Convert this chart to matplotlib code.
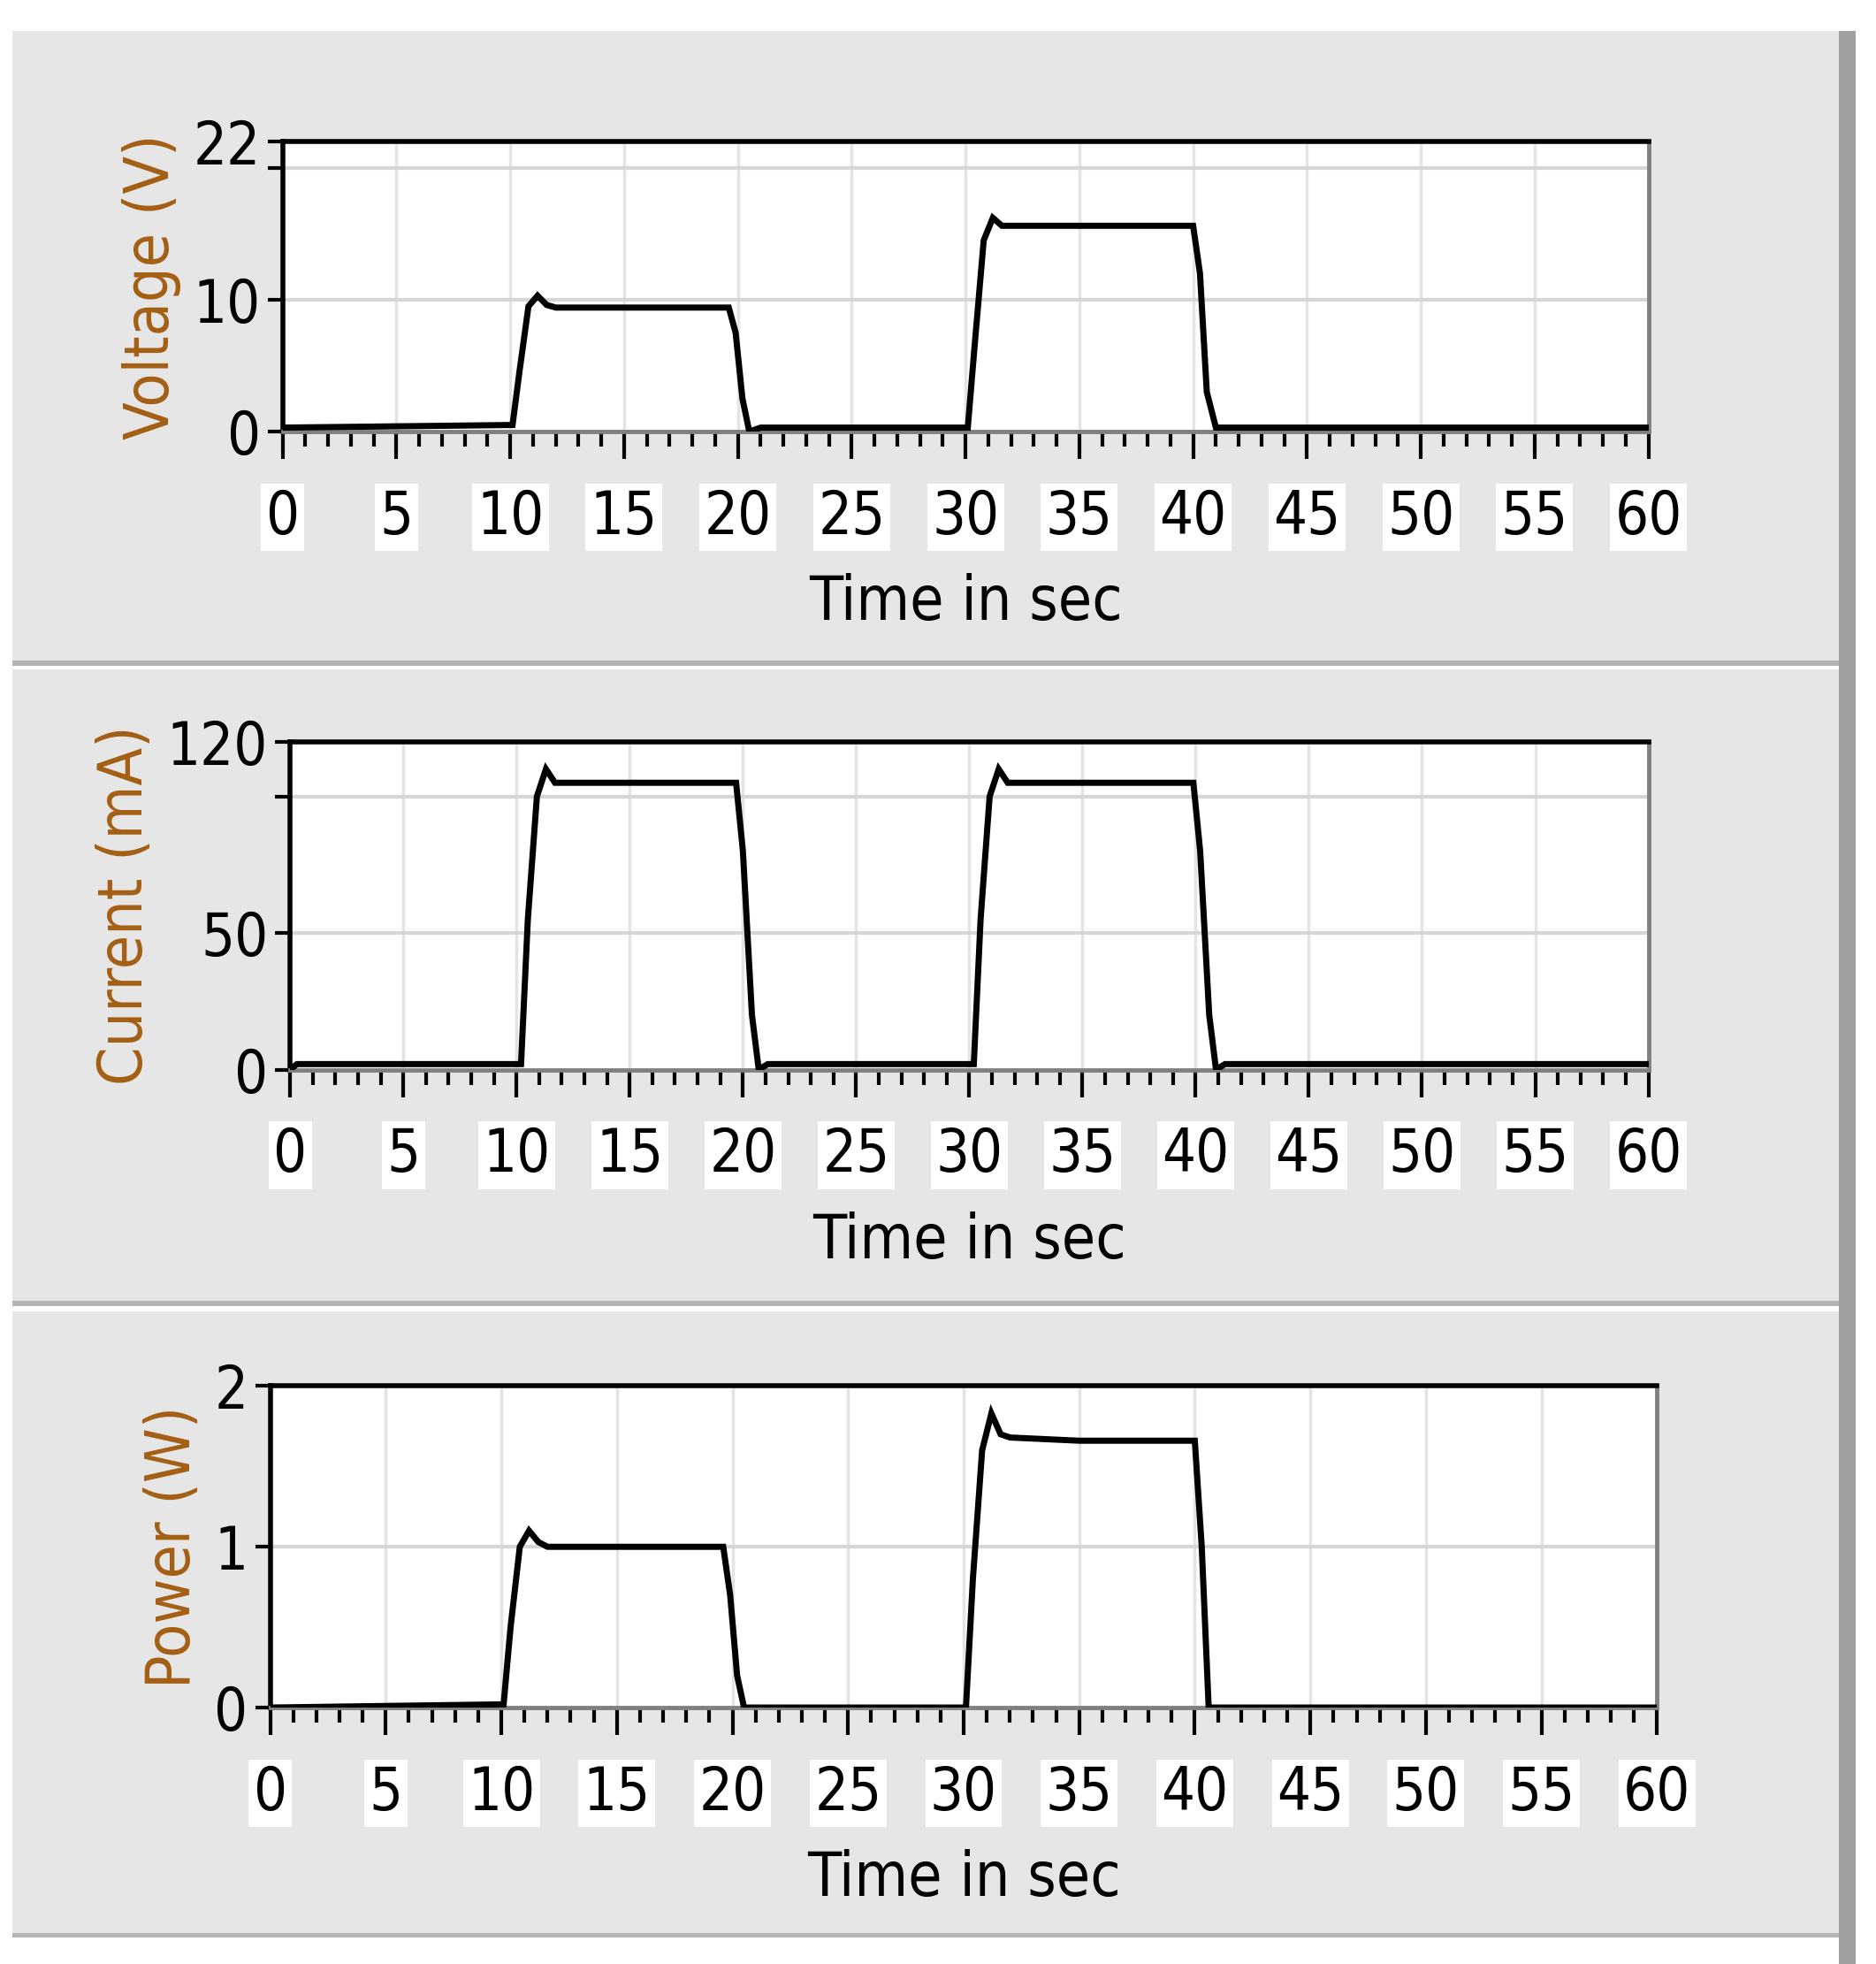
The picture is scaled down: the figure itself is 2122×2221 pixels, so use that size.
import matplotlib
matplotlib.use("Agg")
import matplotlib.pyplot as plt
from matplotlib.patches import Rectangle
from matplotlib.ticker import MultipleLocator

t_v = [0, 10.1, 10.4, 10.8, 11.2, 11.6, 12, 19.6, 19.9, 20.2, 20.5, 21, 30.1, 30.4, 30.8, 31.2, 31.6, 32, 35, 37, 40, 40.3, 40.6, 41, 60]
v = [0.3, 0.5, 4.5, 9.5, 10.3, 9.6, 9.4, 9.4, 7.5, 2.5, 0.0, 0.3, 0.3, 6.5, 14.5, 16.2, 15.6, 15.6, 15.6, 15.6, 15.6, 12, 3, 0.3, 0.3]
t_i = [0, 0.3, 10.2, 10.5, 10.9, 11.3, 11.7, 12, 19.7, 20.0, 20.4, 20.7, 21.1, 30.2, 30.5, 30.9, 31.3, 31.7, 32, 39.9, 40.2, 40.6, 40.9, 41.3, 60]
i = [0, 2, 2, 55, 100, 110, 105, 105, 105, 80, 20, 0, 2, 2, 55, 100, 110, 105, 105, 105, 80, 20, 0, 2, 2]
t_p = [0, 10.1, 10.4, 10.8, 11.2, 11.6, 12, 19.6, 19.9, 20.2, 20.5, 30.1, 30.4, 30.8, 31.2, 31.6, 32, 35, 40, 40.3, 40.6, 60]
p = [0, 0.02, 0.5, 1.0, 1.1, 1.03, 1.0, 1.0, 0.7, 0.2, 0.0, 0.0, 0.8, 1.6, 1.83, 1.7, 1.68, 1.66, 1.66, 1.0, 0.0, 0.0]

xticks = list(range(0, 61, 5))
W, H = 2122, 2221
dw, dh = 1500.0, 1570.0
fig = plt.figure(figsize=(W/100, H/100), dpi=100)
fig.patch.set_facecolor("white")

def fr(x0, y0, x1, y1):
    return [x0/dw, 1 - y1/dh, (x1-x0)/dw, (y1-y0)/dh]

for (y0, y1) in [(25, 528), (535, 1040), (1048, 1545)]:
    fig.patches.append(Rectangle((10/dw, 1-y1/dh), 1472/dw, (y1-y0)/dh, transform=fig.transFigure,
                                 facecolor="#e6e6e6", edgecolor="none", zorder=-10))
    fig.patches.append(Rectangle((10/dw, 1-(y1+4)/dh), 1472/dw, 4/dh, transform=fig.transFigure,
                                 facecolor="#b4b4b4", edgecolor="none", zorder=-9))
fig.patches.append(Rectangle((1470/dw, 0), 14/dw, 1-25/dh, transform=fig.transFigure,
                             facecolor="#a0a0a0", edgecolor="none", zorder=-8))

ycol = "#a35f14"
fkw = dict(family="DejaVu Sans", stretch="condensed")
specs = [
    (fr(226, 113, 1318, 345), t_v, v, 22, [0, 10, 20, 22], {0: "0", 10: "10", 22: "22"}, [10, 20], "Voltage (V)"),
    (fr(232, 593, 1318, 855), t_i, i, 120, [0, 50, 100, 120], {0: "0", 50: "50", 120: "120"}, [50, 100], "Current (mA)"),
    (fr(216, 1108, 1325, 1365), t_p, p, 2, [0, 1, 2], {0: "0", 1: "1", 2: "2"}, [1], "Power (W)"),
]
for rect, tx, ty, ymax, yt, ylab, grid_y, label in specs:
    ax = fig.add_axes(rect)
    ax.set_facecolor("white")
    ax.set_xlim(0, 60)
    ax.set_ylim(0, ymax)
    for gx in xticks[1:-1]:
        ax.axvline(gx, color="#e4e4e4", lw=2.5, zorder=0)
    for gy in grid_y:
        ax.axhline(gy, color="#d6d6d6", lw=3, zorder=0)
    ax.plot(tx, ty, color="black", lw=5, solid_joinstyle="miter", zorder=3)
    ax.set_xticks(xticks)
    ax.xaxis.set_minor_locator(MultipleLocator(1))
    ax.set_yticks(yt)
    ax.set_yticklabels([ylab.get(k, "") for k in yt])
    ax.tick_params(axis="x", which="major", length=22, width=3, pad=24, labelsize=48, direction="out")
    ax.tick_params(axis="x", which="minor", length=12, width=3, direction="out")
    ax.tick_params(axis="y", length=12, width=3, pad=6, labelsize=48)
    for lab in ax.get_xticklabels() + ax.get_yticklabels():
        lab.set_family(fkw["family"]); lab.set_stretch("condensed")
    for lab in ax.get_xticklabels():
        lab.set_bbox(dict(facecolor="white", edgecolor="none", pad=4))
    for s in ["top", "left"]:
        ax.spines[s].set_linewidth(4)
        ax.spines[s].set_color("black")
    for s in ["right", "bottom"]:
        ax.spines[s].set_linewidth(3.5)
        ax.spines[s].set_color("#808080")
    ax.set_xlabel("Time in sec", fontsize=50, labelpad=22, **fkw)
    ax.set_ylabel(label, fontsize=50, color=ycol, labelpad=10, **fkw)

fig.savefig("out.png", dpi=100)
